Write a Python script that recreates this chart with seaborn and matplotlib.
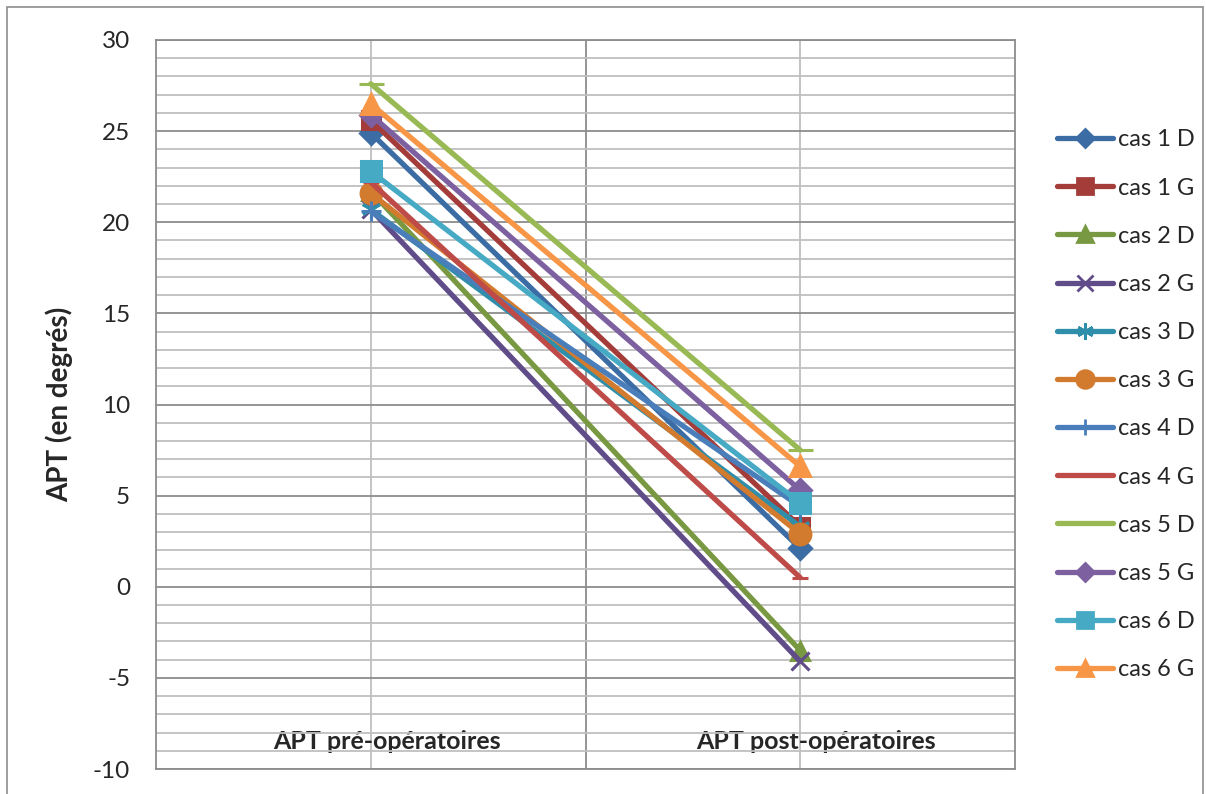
import matplotlib
matplotlib.use("Agg")
import matplotlib.pyplot as plt
from matplotlib.lines import Line2D
from matplotlib.ticker import MultipleLocator
from matplotlib.transforms import ScaledTranslation
import pandas as pd
import seaborn as sns

# data
phases = ["APT pré-opératoires", "APT post-opératoires"]
cases = ["cas 1 D", "cas 1 G", "cas 2 D", "cas 2 G", "cas 3 D", "cas 3 G",
         "cas 4 D", "cas 4 G", "cas 5 D", "cas 5 G", "cas 6 D", "cas 6 G"]
apt_pre = [24.9, 25.6, 21.7, 20.7, 20.7, 21.6, 20.6, 22.2, 27.6, 25.9, 22.8, 26.5]
apt_post = [2.1, 3.3, -3.5, -4.1, 3.3, 2.9, 4.4, 0.5, 7.5, 5.3, 4.6, 6.6]

colors = ["#3B6CA3", "#A43C3A", "#789842", "#614C8A", "#2F8FAA", "#D27A2E",
          "#4A7EBB", "#BE4B48", "#98B954", "#7D60A0", "#46AAC5", "#F79646"]
markers = ["D", "s", "^", "x", (6, 2, 0), "o", "+", "_", "_", "D", "s", "^"]
msizes = [11, 13, 13, 13, 14, 15, 14, 11, 18, 11, 14, 14]

df = pd.DataFrame({
    "cas": [c for c in cases for _ in phases],
    "pos": [0.5, 1.5] * len(cases),
    "apt": [v for pair in zip(apt_pre, apt_post) for v in pair],
})

sns.set_style("white")
plt.rcParams["font.family"] = ["Lato", "DejaVu Sans"]
plt.rcParams["axes.unicode_minus"] = False

fig = plt.figure(figsize=(12.06, 7.94), dpi=100)
ax = fig.add_axes([156 / 1206, 1 - 769 / 794, (1015 - 156) / 1206, (769 - 40) / 794])

# grid like Excel: light minor lines every 1, darker major every 5
ax.set_ylim(-10, 30)
ax.set_xlim(0, 2)
ax.yaxis.set_major_locator(MultipleLocator(5))
ax.yaxis.set_minor_locator(MultipleLocator(1))
ax.grid(which="minor", axis="y", color="#BFBFBF", linewidth=1.3)
ax.grid(which="major", axis="y", color="#8C8C8C", linewidth=1.3)
for xv in [0.5, 1.5]:
    ax.axvline(xv, color="#BFBFBF", linewidth=1.3, zorder=0.5)
ax.axvline(1, color="#8C8C8C", linewidth=1.3, zorder=0.5)
ax.set_axisbelow(True)

for i, cas in enumerate(cases):
    sub = df[df["cas"] == cas]
    sns.lineplot(data=sub, x="pos", y="apt", ax=ax, color=colors[i], linewidth=3.8,
                 marker=markers[i], markersize=msizes[i], markeredgewidth=2.2,
                 markeredgecolor=colors[i], zorder=3 + i, legend=False)

ax.set_xticks([0.5, 1.5])
ax.set_xticklabels(phases, fontsize=18, fontweight="bold", color="#262626")
ax.tick_params(axis="x", length=0, pad=-28)
# Excel drew the category labels slightly right of the gridline
shift = ScaledTranslation(0.16, 0, fig.dpi_scale_trans)
for lbl in ax.get_xticklabels():
    lbl.set_transform(lbl.get_transform() + shift)
ax.tick_params(axis="y", which="both", direction="out", color="#8C8C8C",
               labelsize=17.5, labelcolor="#262626")
ax.tick_params(axis="y", which="major", length=3.6, pad=15)
ax.tick_params(axis="y", which="minor", length=3.6)
ax.set_xlabel("")
ax.set_ylabel("APT (en degrés)", fontsize=20, fontweight="bold", color="#262626", labelpad=14)
for s in ax.spines.values():
    s.set_color("#8C8C8C")
    s.set_linewidth(1.3)

handles = [Line2D([], [], color=colors[i], linewidth=3.8, marker=markers[i],
                  markersize=msizes[i] * 0.85, markeredgewidth=2, markeredgecolor=colors[i])
           for i in range(len(cases))]
fig.legend(handles, cases, loc="upper left", bbox_to_anchor=(1048 / 1206, 1 - 120 / 794),
           frameon=False, fontsize=17, handlelength=2.35, handletextpad=0.2,
           labelspacing=1.15, borderaxespad=0)

# thin outer frame of the chart area
fig.add_artist(plt.Rectangle((7 / 1206, -0.05), 1196 / 1206, 1.05 - 7 / 794,
                             transform=fig.transFigure, fill=False,
                             edgecolor="#8C8C8C", linewidth=1.2))

fig.savefig("out.png", dpi=100)
